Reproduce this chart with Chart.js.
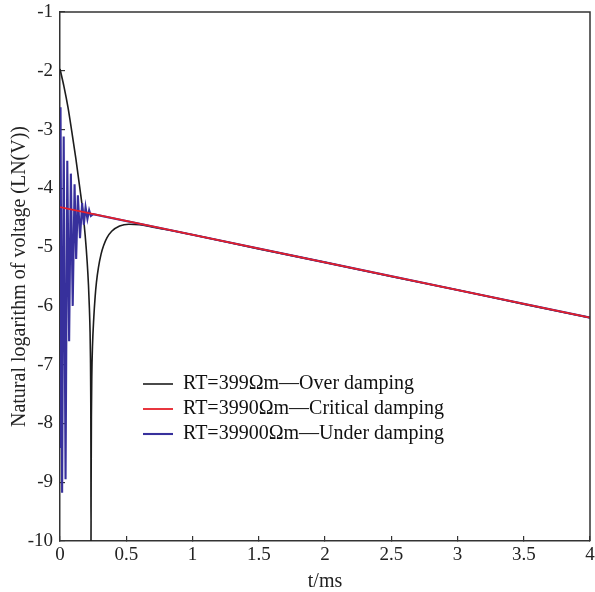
<!DOCTYPE html>
<html><head><meta charset="utf-8">
<script src="https://cdn.jsdelivr.net/npm/chart.js@4/dist/chart.umd.min.js"></script>
<style>html,body{margin:0;padding:0;background:#fff}#wrap{width:595px;height:592px}</style>
</head><body><div id="wrap"><canvas id="c" width="595" height="592"></canvas></div>
<script>
const seriesNames = ['RT=399Ωm—Over damping', 'RT=3990Ωm—Critical damping', 'RT=39900Ωm—Under damping'];
const xTickLabels = ['0', '0.5', '1', '1.5', '2', '2.5', '3', '3.5', '4'];
const yTickLabels = ['-10', '-9', '-8', '-7', '-6', '-5', '-4', '-3', '-2', '-1'];

const overT = [0, 0.03, 0.06, 0.09, 0.12, 0.15, 0.17, 0.19, 0.205, 0.215, 0.222, 0.227, 0.23, 0.232, 0.2335, 0.234, 0.235, 0.237, 0.24, 0.245, 0.255, 0.265, 0.275, 0.29, 0.31, 0.33, 0.355, 0.39, 0.45, 0.52, 0.6, 0.7, 0.8, 1, 1.5, 2, 2.5, 3, 3.5, 4];
const overV = [-1.97, -2.27, -2.62, -3.05, -3.5, -4.0, -4.35, -4.8, -5.25, -5.65, -6.05, -6.45, -6.9, -7.5, -8.6, -10, -9.0, -7.9, -7.2, -6.7, -6.2, -5.85, -5.6, -5.35, -5.12, -4.97, -4.84, -4.73, -4.64, -4.61, -4.62, -4.66, -4.7, -4.79, -5.03, -5.26, -5.5, -5.73, -5.97, -6.2];

const critT = [0, 4];
const critV = [-4.32, -6.2];

const underT = [0, 0.004, 0.016, 0.028, 0.042, 0.055, 0.069, 0.082, 0.096, 0.11, 0.122, 0.135, 0.151, 0.167, 0.18, 0.193, 0.207, 0.22, 0.233, 0.25, 1, 2, 3, 4];
const underV = [-8.4, -2.62, -9.18, -3.12, -8.95, -3.53, -6.6, -3.75, -6.0, -3.93, -5.2, -4.12, -4.85, -4.25, -4.62, -4.32, -4.52, -4.37, -4.47, -4.44, -4.79, -5.26, -5.73, -6.2];

const pts = (t, v) => t.map((x, i) => ({x: x, y: v[i]}));
const FONT = '"Liberation Serif", "Times New Roman", serif';

const legendMover = {
  id: 'legendMover',
  afterLayout(chart) {
    const lg = chart.legend;
    if (!lg) return;
    lg.left = 138; lg.top = 369; lg.width = 330; lg.height = 90;
    lg.right = lg.left + lg.width; lg.bottom = lg.top + lg.height;
  }
};
const frame = {
  id: 'frame',
  afterDatasetsDraw(chart) {
    const {ctx, chartArea: a} = chart;
    ctx.save();
    ctx.strokeStyle = '#333'; ctx.lineWidth = 1.5;
    ctx.beginPath();
    ctx.moveTo(a.left, a.top); ctx.lineTo(a.right, a.top); ctx.lineTo(a.right, a.bottom);
    ctx.stroke();
    ctx.restore();
  }
};
const noPad = s => { s.paddingTop = 0; s.paddingBottom = 0; s.paddingLeft = 0; s.paddingRight = 0; };

new Chart(document.getElementById('c'), {
  type: 'scatter',
  data: {
    datasets: [
      {label: seriesNames[0], data: pts(overT, overV), showLine: true, borderColor: '#1c1c1c', backgroundColor: '#1c1c1c', borderWidth: 1.6, pointRadius: 0, cubicInterpolationMode: 'monotone', order: 2},
      {label: seriesNames[1], data: pts(critT, critV), showLine: true, borderColor: '#e6202a', backgroundColor: '#e6202a', borderWidth: 1.8, pointRadius: 0, order: 0},
      {label: seriesNames[2], data: pts(underT, underV), showLine: true, borderColor: '#37309c', backgroundColor: '#37309c', borderWidth: 2.1, pointRadius: 0, tension: 0, order: 1}
    ]
  },
  options: {
    responsive: false,
    animation: false,
    devicePixelRatio: 1,
    layout: {padding: {left: 0, top: 12, right: 5, bottom: 0}, autoPadding: false},
    plugins: {
      tooltip: {enabled: false},
      legend: {
        position: 'chartArea',
        align: 'start',
        labels: {
          usePointStyle: true, pointStyle: 'line', pointStyleWidth: 30,
          padding: 5, color: '#111',
          font: {family: FONT, size: 20},
          sort: (a, b) => a.datasetIndex - b.datasetIndex
        }
      }
    },
    scales: {
      x: {
        type: 'linear', min: 0, max: 4,
        afterFit: s => { s.height = 51; noPad(s); },
        ticks: {stepSize: 0.5, padding: 8, color: '#222', font: {family: FONT, size: 19}, maxRotation: 0,
          callback: (v, i) => xTickLabels[i]},
        grid: {drawOnChartArea: false, drawTicks: true, tickLength: -5, color: '#333', lineWidth: 1.2},
        border: {display: true, color: '#333', width: 1.5},
        title: {display: true, text: 't/ms', color: '#222', font: {family: FONT, size: 20, lineHeight: 1}, padding: {top: 0, bottom: 0}}
      },
      y: {
        type: 'linear', min: -10, max: -1,
        afterFit: s => { s.width = 60; noPad(s); },
        ticks: {stepSize: 1, padding: 12, color: '#222', font: {family: FONT, size: 19},
          callback: (v, i) => yTickLabels[i]},
        grid: {drawOnChartArea: false, drawTicks: true, tickLength: -5, color: '#333', lineWidth: 1.2},
        border: {display: true, color: '#333', width: 1.5},
        title: {display: true, text: 'Natural logarithm of voltage (LN(V))', color: '#222', font: {family: FONT, size: 20, lineHeight: 1}, padding: {top: 10, bottom: 0}}
      }
    }
  },
  plugins: [legendMover, frame]
});
</script>
</body></html>
